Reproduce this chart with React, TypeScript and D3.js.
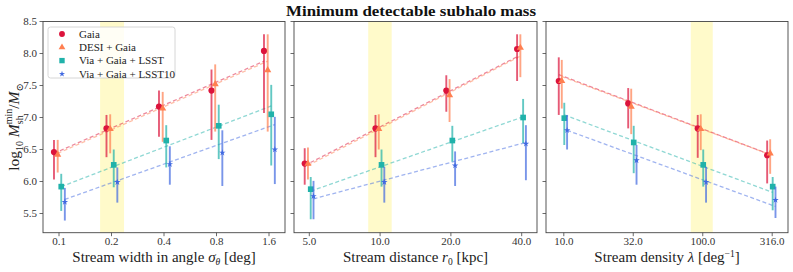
import React from "react";
import * as d3 from "d3";

// series names, colours and marker shapes
const seriesNames = ["Gaia", "DESI + Gaia", "Via + Gaia + LSST", "Via + Gaia + LSST10"];
const seriesColors = ["#dc143c", "#ff7f50", "#20b2aa", "#4169e1"];
const seriesSymbols = [d3.symbolCircle, d3.symbolTriangle, d3.symbolSquare, d3.symbolStar];
const symbolSizes = [30, 22, 32, 13];

// y axis
const yTicks = [5.5, 6.0, 6.5, 7.0, 7.5, 8.0, 8.5];

// panel 1: stream width
const sigmaTicks = [0.1, 0.2, 0.4, 0.8, 1.6];
const sigmaTickLabels = ["0.1", "0.2", "0.4", "0.8", "1.6"];
const sigmaJitter = [0.936, 0.983, 1.03, 1.08];
const sigmaBand = [0.172, 0.236];
const sigmaGaia = [6.46, 6.83, 7.17, 7.42, 8.04];
const sigmaGaiaLo = [6.03, 6.38, 6.70, 6.65, 7.07];
const sigmaGaiaHi = [6.65, 7.04, 7.42, 7.75, 8.30];
const sigmaDesi = [6.42, 6.82, 7.14, 7.52, 7.74];
const sigmaDesiLo = [6.14, 6.44, 6.62, 6.78, 6.78];
const sigmaDesiHi = [6.65, 7.05, 7.40, 7.83, 8.30];
const sigmaVia = [5.92, 6.26, 6.64, 6.87, 7.05];
const sigmaViaLo = [5.54, 5.91, 6.22, 6.35, 6.25];
const sigmaViaHi = [6.12, 6.50, 6.88, 7.20, 7.51];
const sigmaLsst10 = [5.68, 5.99, 6.27, 6.45, 6.50];
const sigmaLsst10Lo = [5.39, 5.67, 5.95, 5.93, 5.96];
const sigmaLsst10Hi = [5.90, 6.22, 6.55, 6.80, 7.01];
const sigmaFits = [[6.44, 7.88], [6.44, 7.88], [5.92, 7.18], [5.72, 6.89]];

// panel 2: stream distance
const distTicks = [5, 10, 20, 40];
const distTickLabels = ["5.0", "10.0", "20.0", "40.0"];
const distJitter = [0.956, 0.987, 1.014, 1.042];
const distBand = [8.9, 11.2];
const distGaia = [6.28, 6.83, 7.42, 8.07];
const distGaiaLo = [5.95, 6.38, 7.09, 7.57];
const distGaiaHi = [6.52, 7.04, 7.66, 8.30];
const distDesi = [6.28, 6.82, 7.35, 8.09];
const distDesiLo = [6.03, 6.50, 6.93, 7.63];
const distDesiHi = [6.53, 7.05, 7.60, 8.30];
const distVia = [5.88, 6.26, 6.64, 7.00];
const distViaLo = [5.41, 5.92, 6.31, 6.60];
const distViaHi = [6.07, 6.50, 6.87, 7.29];
const distLsst10 = [5.77, 5.99, 6.25, 6.59];
const distLsst10Lo = [5.41, 5.67, 5.93, 6.02];
const distLsst10Hi = [6.01, 6.23, 6.47, 6.88];
const distFits = [[6.25, 7.95], [6.25, 7.96], [5.85, 7.01], [5.73, 6.61]];

// panel 3: stream density
const densTicks = [10, 31.6, 100, 316];
const densTickLabels = ["10.0", "32.0", "100.0", "316.0"];
const densJitter = [0.92, 0.967, 1.008, 1.056];
const densBand = [82, 118];
const densGaia = [7.57, 7.22, 6.83, 6.41];
const densGaiaLo = [7.04, 6.83, 6.37, 5.97];
const densGaiaHi = [7.94, 7.46, 7.04, 6.64];
const densDesi = [7.57, 7.17, 6.82, 6.44];
const densDesiLo = [7.14, 6.74, 6.49, 6.12];
const densDesiHi = [7.90, 7.45, 7.05, 6.66];
const densVia = [6.99, 6.61, 6.26, 5.92];
const densViaLo = [6.57, 6.13, 5.92, 5.55];
const densViaHi = [7.23, 6.87, 6.50, 6.07];
const densLsst10 = [6.80, 6.33, 5.99, 5.71];
const densLsst10Lo = [6.50, 5.95, 5.67, 5.43];
const densLsst10Hi = [7.04, 6.57, 6.23, 5.92];
const densFits = [[7.67, 6.44], [7.64, 6.42], [7.04, 5.83], [6.80, 5.61]];

const FONT = "Liberation Serif, Times New Roman, Times, DejaVu Serif, serif";
const TOP = 21.5;
const BOTTOM = 232.7;

const yScale = d3.scaleLinear().domain([5.2, 8.5]).range([BOTTOM, TOP]);

const panels = [
  {
    x0: 43, x1: 285, padL: 16, padR: 16,
    ticks: sigmaTicks, tickLabels: sigmaTickLabels, jitter: sigmaJitter, band: sigmaBand, fits: sigmaFits,
    values: [sigmaGaia, sigmaDesi, sigmaVia, sigmaLsst10],
    lo: [sigmaGaiaLo, sigmaDesiLo, sigmaViaLo, sigmaLsst10Lo],
    hi: [sigmaGaiaHi, sigmaDesiHi, sigmaViaHi, sigmaLsst10Hi],
    label: (
      <>
        Stream width in angle <tspan fontStyle="italic">σ</tspan>
        <tspan fontStyle="italic" fontSize={9.5} dy={3}>θ</tspan>
        <tspan dy={-3}> [deg]</tspan>
      </>
    ),
    yLabels: true,
  },
  {
    x0: 294, x1: 537, padL: 15.3, padR: 15.3,
    ticks: distTicks, tickLabels: distTickLabels, jitter: distJitter, band: distBand, fits: distFits,
    values: [distGaia, distDesi, distVia, distLsst10],
    lo: [distGaiaLo, distDesiLo, distViaLo, distLsst10Lo],
    hi: [distGaiaHi, distDesiHi, distViaHi, distLsst10Hi],
    label: (
      <>
        Stream distance <tspan fontStyle="italic">r</tspan>
        <tspan fontSize={9.5} dy={3}>0</tspan>
        <tspan dy={-3}> [kpc]</tspan>
      </>
    ),
    yLabels: false,
  },
  {
    x0: 546, x1: 788, padL: 17.8, padR: 15.8,
    ticks: densTicks, tickLabels: densTickLabels, jitter: densJitter, band: densBand, fits: densFits,
    values: [densGaia, densDesi, densVia, densLsst10],
    lo: [densGaiaLo, densDesiLo, densViaLo, densLsst10Lo],
    hi: [densGaiaHi, densDesiHi, densViaHi, densLsst10Hi],
    label: (
      <>
        Stream density <tspan fontStyle="italic">λ</tspan> [deg
        <tspan fontSize={9.5} dy={-5}>−1</tspan>
        <tspan dy={5}>]</tspan>
      </>
    ),
    yLabels: false,
  },
];

const Panel = ({ p }) => {
  const xScale = d3
    .scaleLog()
    .domain([p.ticks[0], p.ticks[p.ticks.length - 1]])
    .range([p.x0 + p.padL, p.x1 - p.padR]);

  const line = d3
    .line()
    .x((d) => xScale(d[0]))
    .y((d) => yScale(d[1]));

  const n = p.ticks.length;

  return (
    <g>
      {/* highlighted fiducial value */}
      <rect
        x={xScale(p.band[0])}
        y={TOP}
        width={xScale(p.band[1]) - xScale(p.band[0])}
        height={BOTTOM - TOP}
        fill="#fff9c4"
        opacity={0.9}
      />

      {/* fit lines */}
      {p.fits.map((f, s) => (
        <path
          key={"fit" + s}
          d={line([
            [p.ticks[0] * p.jitter[s], f[0]],
            [p.ticks[n - 1] * p.jitter[s], f[1]],
          ])}
          fill="none"
          stroke={seriesColors[s]}
          strokeWidth={1.3}
          strokeDasharray="4,2.5"
          opacity={0.5}
        />
      ))}

      {/* error bars and markers */}
      {p.values.map((vals, s) =>
        vals.map((v, i) => {
          const cx = xScale(p.ticks[i] * p.jitter[s]);
          return (
            <g key={s + "-" + i}>
              <line
                x1={cx}
                x2={cx}
                y1={yScale(p.lo[s][i])}
                y2={yScale(p.hi[s][i])}
                stroke={seriesColors[s]}
                strokeWidth={1.9}
                opacity={0.7}
              />
              <path
                d={d3.symbol().type(seriesSymbols[s]).size(symbolSizes[s])()}
                transform={`translate(${cx},${yScale(v)})`}
                fill={seriesColors[s]}
              />
            </g>
          );
        })
      )}

      {/* frame */}
      <rect x={p.x0} y={TOP} width={p.x1 - p.x0} height={BOTTOM - TOP} fill="none" stroke="#444" strokeWidth={0.9} />

      {/* y ticks */}
      {yTicks.map((t) => (
        <g key={"y" + t}>
          <line x1={p.x0 - 3.5} x2={p.x0} y1={yScale(t)} y2={yScale(t)} stroke="#444" strokeWidth={0.8} />
          {p.yLabels && (
            <text x={p.x0 - 6} y={yScale(t)} dy="0.35em" textAnchor="end" fontSize={11} fill="#333" style={{ fontFamily: FONT }}>
              {t.toFixed(1)}
            </text>
          )}
        </g>
      ))}

      {/* x ticks */}
      {p.ticks.map((t, i) => (
        <g key={"x" + t}>
          <line x1={xScale(t)} x2={xScale(t)} y1={BOTTOM} y2={BOTTOM + 3.5} stroke="#444" strokeWidth={0.8} />
          <text x={xScale(t)} y={BOTTOM + 12} textAnchor="middle" fontSize={11} fill="#333" style={{ fontFamily: FONT }}>
            {p.tickLabels[i]}
          </text>
        </g>
      ))}

      <text x={(p.x0 + p.x1) / 2} y={262} textAnchor="middle" fontSize={15} fill="#222" style={{ fontFamily: FONT }}>
        {p.label}
      </text>
    </g>
  );
};

const Legend = () => (
  <g>
    <rect x={48} y={27} width={127} height={51} rx={2.5} fill="#fff" fillOpacity={0.8} stroke="#ccc" strokeWidth={0.8} />
    {seriesNames.map((name, s) => {
      const cy = 34 + s * 13.3;
      return (
        <g key={name}>
          <path
            d={d3.symbol().type(seriesSymbols[s]).size(symbolSizes[s] * 0.9)()}
            transform={`translate(62,${cy})`}
            fill={seriesColors[s]}
          />
          <text x={79} y={cy} dy="0.35em" fontSize={11} fill="#222" style={{ fontFamily: FONT }}>
            {name}
          </text>
        </g>
      );
    })}
  </g>
);

export default function App() {
  return (
    <svg width={793} height={272} style={{ position: "absolute", left: 0, top: 0, background: "#fff" }}>
      <rect width={793} height={272} fill="#fff" />
      <text
        x={411}
        y={16}
        textAnchor="middle"
        fontSize={15.5}
        fontWeight="bold"
        fill="#111"
        textLength={250}
        lengthAdjust="spacingAndGlyphs"
        style={{ fontFamily: FONT }}
      >
        Minimum detectable subhalo mass
      </text>

      {panels.map((p, k) => (
        <Panel key={k} p={p} />
      ))}

      <Legend />

      {/* y axis label: log10 M_sh^min / M_sun */}
      <g transform="translate(19,127) rotate(-90)">
        <text textAnchor="middle" fontSize={15.5} fill="#222" style={{ fontFamily: FONT }}>
          log
          <tspan fontSize={10} dy={4}>10</tspan>
          <tspan dy={-4} fontStyle="italic"> M</tspan>
          <tspan fontSize={10} dy={4}>sh</tspan>
          <tspan fontSize={10} dx={-9} dy={-11}>min</tspan>
          <tspan dy={7}>/</tspan>
          <tspan fontStyle="italic">M</tspan>
          <tspan fontSize={10} dy={4}>⊙</tspan>
        </text>
      </g>
    </svg>
  );
}
